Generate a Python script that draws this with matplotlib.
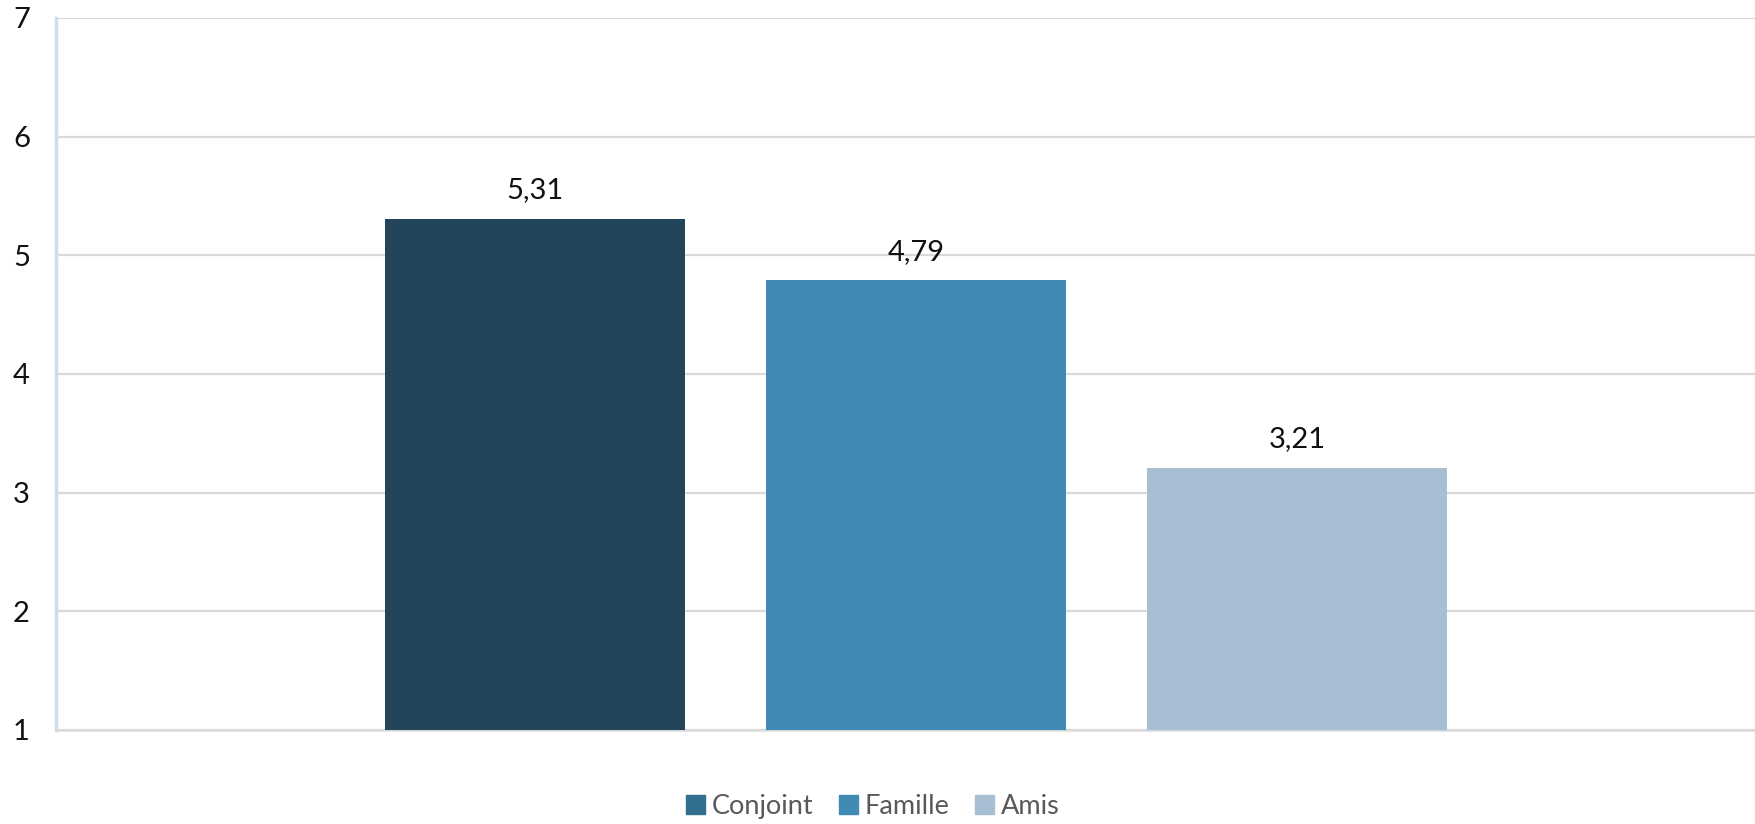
import matplotlib.pyplot as plt
from matplotlib.patches import Patch

# Data
series = ['Conjoint', 'Famille', 'Amis']
values = [5.31, 4.79, 3.21]
value_labels = ['5,31', '4,79', '3,21']
bar_colors = ['#22455b', '#418ab3', '#a8bed3']
legend_colors = ['#33708f', '#418ab3', '#a8bed3']
yticks = [1, 2, 3, 4, 5, 6, 7]

plt.rcParams['font.family'] = ['Lato', 'DejaVu Sans']

fig = plt.figure(figsize=(17.56, 8.24), dpi=100)
ax = fig.add_axes([0.0319, 0.1141, 0.9681, 0.8641])

x = list(range(len(series)))
ax.bar(x, [v - 1 for v in values], bottom=1, width=0.787, color=bar_colors, zorder=3)

for xi, v, lab in zip(x, values, value_labels):
    ax.annotate(lab, (xi, v), xytext=(0, 11), textcoords='offset points',
                ha='center', va='bottom', fontsize=21, color='#111111')

ax.set_ylim(1, 7)
ax.set_xlim(-1.257, 3.205)
ax.set_yticks(yticks)
ax.set_yticklabels([str(t) for t in yticks], fontsize=21, color='#111111')
ax.set_xticks([])
ax.tick_params(axis='y', length=0, pad=31)
for lbl in ax.get_yticklabels():
    lbl.set_horizontalalignment('left')

ax.grid(axis='y', color='#d9d9d9', linewidth=1.6, zorder=0)
for s in ['top', 'right']:
    ax.spines[s].set_visible(False)
ax.spines['left'].set_color('#c9e0ec')
ax.spines['left'].set_linewidth(2.5)
ax.spines['bottom'].set_color('#d9d9d9')
ax.spines['bottom'].set_linewidth(1.8)

handles = [Patch(color=c, label=s) for c, s in zip(legend_colors, series)]
leg = fig.legend(handles=handles, loc='center', bbox_to_anchor=(0.497, 0.021), ncol=3,
                 frameon=False, fontsize=19.5, handlelength=0.7, handleheight=0.7,
                 handletextpad=0.25, columnspacing=0.95)
for t in leg.get_texts():
    t.set_color('#595959')

fig.savefig('out.png', dpi=100)
